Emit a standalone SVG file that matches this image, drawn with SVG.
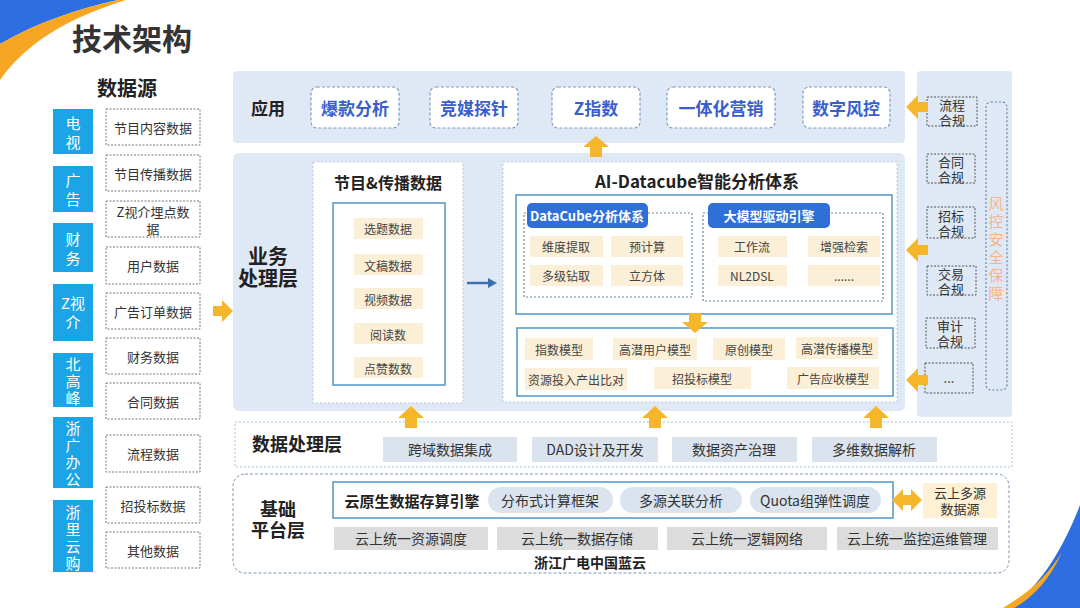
<svg xmlns="http://www.w3.org/2000/svg" width="1080" height="608" viewBox="0 0 1080 608">
<defs>
<style>
text{font-family:"Noto Sans CJK SC","Noto Sans",sans-serif;dominant-baseline:central;text-anchor:middle}
.b{font-weight:bold}
.src{fill:#1ba4e6}
.srct{fill:#fff;font-size:15px}
.dbox{fill:#fff;stroke:#777;stroke-dasharray:2 1.5;stroke-width:1}
.dt{fill:#333;font-size:13px}
.bg{fill:#dfe9f5}
.app{fill:#fff;stroke:#7f9cc4;stroke-dasharray:3 2;stroke-width:1.2}
.appt{fill:#3a5fcd;font-size:17px;font-weight:bold}
.panel{fill:#fff;stroke:#b8c8dc;stroke-dasharray:2 2;stroke-width:1}
.inner{fill:#fff;stroke:#5b9bc9;stroke-width:1.6}
.beige{fill:#fcefd7}
.it{fill:#444;font-size:12px}
.grp{fill:none;stroke:#6c86a8;stroke-dasharray:2 2;stroke-width:1.2}
.pill{fill:#2f6fd8}
.pillt{fill:#fff;font-size:13px;font-weight:bold}
.dp{fill:#dae3ee}
.dpt{fill:#333;font-size:14px}
.gray{fill:#dcdcdc}
.cmp{fill:none;stroke:#555;stroke-dasharray:2 1.5;stroke-width:1}
.cmpt{fill:#333;font-size:13px}
.arr{fill:#f6b62a}
.lbl{fill:#222;font-weight:bold}
</style>
</defs>

<!-- decorations -->
<path d="M0,0 H118 C78,9 38,22 0,44 Z" fill="#2d6fe0"/>
<path d="M0,44 C38,22 78,9 118,0 H126 C74,16 28,40 0,80 Z" fill="#f6a623"/>
<path d="M1080,505 C1062,552 1040,585 1010,608 H1080 Z" fill="#2d6fe0"/>
<path d="M1003,608 C1030,592 1048,575 1062,552 C1050,580 1032,598 1014,608 Z" fill="#f6a623"/>

<text x="132" y="37" class="b" style="font-size:30px;fill:#333">技术架构</text>

<!-- data sources -->
<g id="datasource">
<text x="127" y="87" class="lbl" style="font-size:20px">数据源</text>
<g id="src-tv"><rect x="53" y="109" width="40" height="45" class="src"/><text x="73" y="122" class="srct">电<tspan x="73" dy="19">视</tspan></text></g>
<g id="src-ad"><rect x="53" y="166" width="40" height="46" class="src"/><text x="73" y="179" class="srct">广<tspan x="73" dy="19">告</tspan></text></g>
<g id="src-fin"><rect x="53" y="223" width="40" height="49" class="src"/><text x="73" y="238" class="srct">财<tspan x="73" dy="19">务</tspan></text></g>
<g id="src-z"><rect x="53" y="284" width="40" height="57" class="src"/><text x="73" y="302" class="srct">Z视<tspan x="73" dy="19">介</tspan></text></g>
<g id="src-bgf"><rect x="53" y="353" width="40" height="54" class="src"/><text x="73" y="363" class="srct">北<tspan x="73" dy="17">高</tspan><tspan x="73" dy="17">峰</tspan></text></g>
<g id="src-zgbg"><rect x="53" y="417" width="40" height="71" class="src"/><text x="73" y="427" class="srct">浙<tspan x="73" dy="17">广</tspan><tspan x="73" dy="17">办</tspan><tspan x="73" dy="17">公</tspan></text></g>
<g id="src-zlyg"><rect x="53" y="500" width="40" height="72" class="src"/><text x="73" y="511" class="srct">浙<tspan x="73" dy="17">里</tspan><tspan x="73" dy="17">云</tspan><tspan x="73" dy="17">购</tspan></text></g>

<g id="d1"><rect x="106" y="109" width="94" height="36" class="dbox"/><text x="153" y="127" class="dt">节目内容数据</text></g>
<g id="d2"><rect x="106" y="155" width="94" height="36" class="dbox"/><text x="153" y="173" class="dt">节目传播数据</text></g>
<g id="d3"><rect x="106" y="201" width="94" height="36" class="dbox"/><text x="153" y="211" class="dt">Z视介埋点数<tspan x="153" dy="17">据</tspan></text></g>
<g id="d4"><rect x="106" y="247" width="94" height="37" class="dbox"/><text x="153" y="265" class="dt">用户数据</text></g>
<g id="d5"><rect x="106" y="293" width="94" height="36" class="dbox"/><text x="153" y="311" class="dt">广告订单数据</text></g>
<g id="d6"><rect x="106" y="338" width="94" height="36" class="dbox"/><text x="153" y="356" class="dt">财务数据</text></g>
<g id="d7"><rect x="106" y="383" width="94" height="36" class="dbox"/><text x="153" y="401" class="dt">合同数据</text></g>
<g id="d8"><rect x="106" y="435" width="94" height="37" class="dbox"/><text x="153" y="453" class="dt">流程数据</text></g>
<g id="d9"><rect x="106" y="487" width="94" height="36" class="dbox"/><text x="153" y="505" class="dt">招投标数据</text></g>
<g id="d10"><rect x="106" y="532" width="94" height="36" class="dbox"/><text x="153" y="550" class="dt">其他数据</text></g>
</g>

<!-- backgrounds -->
<rect x="233" y="71" width="672" height="72" rx="4" class="bg"/>
<rect x="233" y="153" width="672" height="258" rx="6" class="bg"/>
<rect x="917" y="71" width="95" height="346" rx="4" class="bg"/>

<!-- application layer -->
<g id="app">
<text x="268" y="107" class="lbl" style="font-size:17px">应用</text>
<g id="app1"><rect x="311" y="87" width="88" height="41" rx="6" class="app"/><text x="355" y="107" class="appt">爆款分析</text></g>
<g id="app2"><rect x="430" y="87" width="88" height="41" rx="6" class="app"/><text x="474" y="107" class="appt">竞媒探针</text></g>
<g id="app3"><rect x="552" y="87" width="88" height="41" rx="6" class="app"/><text x="596" y="107" class="appt">Z指数</text></g>
<g id="app4"><rect x="667" y="87" width="108" height="41" rx="6" class="app"/><text x="721" y="107" class="appt">一体化营销</text></g>
<g id="app5"><rect x="803" y="87" width="87" height="41" rx="6" class="app"/><text x="846" y="107" class="appt">数字风控</text></g>
</g>

<!-- business layer -->
<g id="biz">
<text x="268" y="255" class="lbl" style="font-size:20px">业务<tspan x="268" dy="22">处理层</tspan></text>
</g>

<g id="prog">
<rect x="313" y="162" width="150" height="241" class="panel"/>
<text x="388" y="182" class="b" style="font-size:16px;fill:#222">节目&amp;传播数据</text>
<rect x="333" y="203" width="112" height="182" class="inner"/>
<rect x="354" y="218" width="69" height="21" class="beige"/><text x="388" y="228" class="it">选题数据</text>
<rect x="354" y="254" width="69" height="21" class="beige"/><text x="388" y="265" class="it">文稿数据</text>
<rect x="354" y="288" width="69" height="21" class="beige"/><text x="388" y="299" class="it">视频数据</text>
<rect x="354" y="323" width="69" height="21" class="beige"/><text x="388" y="334" class="it">阅读数</text>
<rect x="354" y="357" width="69" height="21" class="beige"/><text x="388" y="368" class="it">点赞数数</text>
</g>

<g id="ai">
<rect x="503" y="162" width="394" height="240" class="panel"/>
<text x="697" y="180" class="b" style="font-size:17px;fill:#222">AI-Datacube智能分析体系</text>
<rect x="516" y="195" width="376" height="119" class="inner"/>
<g id="datacube">
<rect x="524" y="213" width="168" height="84" class="grp"/>
<rect x="527" y="203" width="121" height="25" rx="5" class="pill"/><text x="587" y="215" class="pillt">DataCube分析体系</text>
<rect x="530" y="236" width="73" height="21" class="beige"/><text x="566" y="246" class="it">维度提取</text>
<rect x="611" y="236" width="72" height="21" class="beige"/><text x="647" y="246" class="it">预计算</text>
<rect x="530" y="265" width="73" height="21" class="beige"/><text x="566" y="275" class="it">多级钻取</text>
<rect x="611" y="265" width="72" height="21" class="beige"/><text x="647" y="275" class="it">立方体</text>
</g>
<g id="llm">
<rect x="703" y="213" width="180" height="88" class="grp"/>
<rect x="708" y="203" width="122" height="25" rx="5" class="pill"/><text x="769" y="215" class="pillt">大模型驱动引擎</text>
<rect x="718" y="236" width="69" height="21" class="beige"/><text x="752" y="246" class="it">工作流</text>
<rect x="808" y="236" width="72" height="21" class="beige"/><text x="844" y="246" class="it">增强检索</text>
<rect x="718" y="265" width="69" height="21" class="beige"/><text x="752" y="275" class="it">NL2DSL</text>
<rect x="808" y="265" width="72" height="21" class="beige"/><text x="844" y="275" class="it">......</text>
</g>
<rect x="517" y="328" width="376" height="68" class="inner"/>
<g id="models">
<rect x="525" y="338" width="68" height="22" class="beige"/><text x="559" y="349" class="it">指数模型</text>
<rect x="613" y="338" width="84" height="22" class="beige"/><text x="655" y="349" class="it">高潜用户模型</text>
<rect x="713" y="338" width="72" height="22" class="beige"/><text x="749" y="349" class="it">原创模型</text>
<rect x="796" y="337" width="82" height="22" class="beige"/><text x="837" y="348" class="it">高潜传播模型</text>
<rect x="525" y="368" width="102" height="22" class="beige"/><text x="576" y="379" class="it">资源投入产出比对</text>
<rect x="654" y="367" width="97" height="22" class="beige"/><text x="702" y="378" class="it">招投标模型</text>
<rect x="787" y="367" width="92" height="22" class="beige"/><text x="833" y="378" class="it">广告应收模型</text>
</g>
</g>

<!-- right compliance column -->
<g id="risk">
<rect x="927" y="97" width="50" height="29" class="cmp"/><text x="952" y="104" class="cmpt">流程<tspan x="952" dy="15">合规</tspan></text>
<rect x="927" y="154" width="48" height="29" class="cmp"/><text x="951" y="161" class="cmpt">合同<tspan x="951" dy="15">合规</tspan></text>
<rect x="927" y="207" width="48" height="31" class="cmp"/><text x="951" y="215" class="cmpt">招标<tspan x="951" dy="15">合规</tspan></text>
<rect x="927" y="266" width="49" height="29" class="cmp"/><text x="951" y="273" class="cmpt">交易<tspan x="951" dy="15">合规</tspan></text>
<rect x="926" y="318" width="49" height="30" class="cmp"/><text x="950" y="325" class="cmpt">审计<tspan x="950" dy="15">合规</tspan></text>
<rect x="925" y="363" width="48" height="30" class="cmp"/><text x="949" y="377" class="cmpt">...</text>
<rect x="986" y="102" width="21" height="288" rx="5" fill="none" stroke="#6b86ab" stroke-dasharray="2 2" stroke-width="1.2"/>
<text x="996" y="202" style="font-size:15px;fill:#f5b58a">风<tspan x="996" dy="18">控</tspan><tspan x="996" dy="18">安</tspan><tspan x="996" dy="18">全</tspan><tspan x="996" dy="18">保</tspan><tspan x="996" dy="18">障</tspan></text>
</g>

<!-- data processing layer -->
<g id="dpl">
<rect x="235" y="422" width="777" height="45" fill="#fff" stroke="#a9c4de" stroke-dasharray="2 2"/>
<text x="297" y="443" class="lbl" style="font-size:18px">数据处理层</text>
<rect x="383" y="437" width="134" height="25" class="dp"/><text x="450" y="449" class="dpt">跨域数据集成</text>
<rect x="532" y="437" width="126" height="25" class="dp"/><text x="595" y="449" class="dpt">DAD设计及开发</text>
<rect x="672" y="437" width="125" height="25" class="dp"/><text x="734" y="449" class="dpt">数据资产治理</text>
<rect x="812" y="437" width="125" height="25" class="dp"/><text x="874" y="449" class="dpt">多维数据解析</text>
</g>

<!-- foundation layer -->
<g id="base">
<rect x="233" y="474" width="776" height="99" rx="12" fill="#fff" stroke="#7f95b3" stroke-dasharray="3 2"/>
<text x="278" y="508" class="lbl" style="font-size:18px">基础<tspan x="278" dy="21">平台层</tspan></text>
<rect x="333" y="482" width="560" height="36" class="inner"/>
<text x="412" y="500" class="b" style="font-size:15px;fill:#222">云原生数据存算引擎</text>
<rect x="488" y="487" width="125" height="26" rx="13" class="dp"/><text x="550" y="500" class="dpt">分布式计算框架</text>
<rect x="620" y="487" width="122" height="26" rx="13" class="dp"/><text x="681" y="500" class="dpt">多源关联分析</text>
<rect x="750" y="487" width="131" height="26" rx="13" class="dp"/><text x="815" y="500" class="dpt">Quota组弹性调度</text>
<rect x="923" y="483" width="74" height="35" fill="#fdf0d5"/>
<text x="960" y="492" class="cmpt">云上多源<tspan x="960" dy="16">数据源</tspan></text>
<rect x="334" y="527" width="154" height="23" class="gray"/><text x="411" y="538" class="dpt">云上统一资源调度</text>
<rect x="497" y="527" width="161" height="23" class="gray"/><text x="577" y="538" class="dpt">云上统一数据存储</text>
<rect x="667" y="527" width="160" height="23" class="gray"/><text x="747" y="538" class="dpt">云上统一逻辑网络</text>
<rect x="837" y="527" width="161" height="23" class="gray"/><text x="917" y="538" class="dpt">云上统一监控运维管理</text>
<text x="590" y="562" class="b" style="font-size:14px;fill:#222">浙江广电中国蓝云</text>
</g>

<!-- connectors -->
<g id="connectors">
<path d="M213,306 h9 v-6 l11,11 l-11,11 v-6 h-9 Z" class="arr"/>
<path d="M467,283 H490" stroke="#3d6fae" stroke-width="2.5"/>
<path d="M497,283 l-9,-5 v10 Z" fill="#3d6fae"/>
<path d="M590,157 v-10 h-7 l13,-11 l13,11 h-7 v10 Z" class="arr"/>
<path d="M405,428 v-10 h-7 l13,-12 l13,12 h-7 v10 Z" class="arr"/>
<path d="M649,428 v-10 h-7 l13,-12 l13,12 h-7 v10 Z" class="arr"/>
<path d="M870,428 v-10 h-7 l13,-12 l13,12 h-7 v10 Z" class="arr"/>
<path d="M689,313 v9 h-7 l13,11 l13,-11 h-7 v-9 Z" class="arr"/>
<path d="M928,102 h-10 v-7 l-12,12 l12,12 v-7 h10 Z" class="arr"/>
<path d="M928,245 h-10 v-7 l-12,12 l12,12 v-7 h10 Z" class="arr"/>
<path d="M928,375 h-10 v-7 l-12,12 l12,12 v-7 h10 Z" class="arr"/>
<path d="M892,500 l11,-11 v6 h8 v-6 l11,11 l-11,11 v-6 h-8 v6 Z" class="arr"/>
</g>
</svg>
